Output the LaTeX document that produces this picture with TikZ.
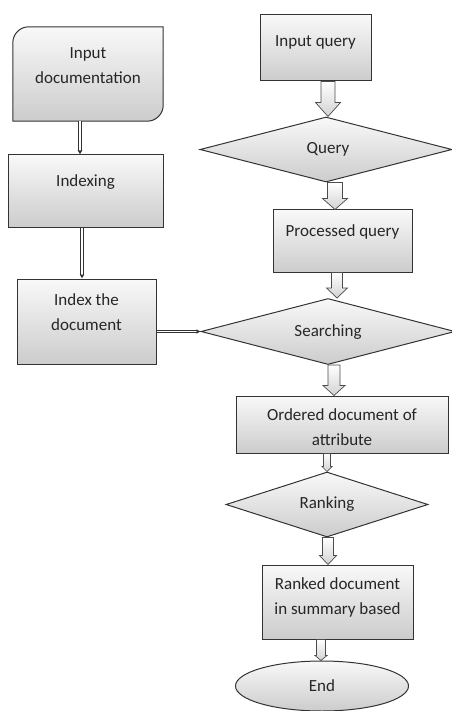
\documentclass[tikz,border=0pt]{standalone}
\usepackage{fontspec}
\setmainfont{Carlito}
\usetikzlibrary{shapes.geometric,arrows.meta,calc}
\begin{document}
\begin{tikzpicture}[x=1pt,y=1pt,
  txt/.style={font=\fontsize{17}{25}\selectfont, text=black!85, align=center, inner sep=0pt},
  every label/.style={txt},
  shapefill/.style={draw=black!80, line width=1pt, top color=gray!5, bottom color=gray!40},
  box/.style={rectangle, shapefill, inner sep=0pt},
  dia/.style={diamond, shapefill, inner sep=0pt},
  oval/.style={ellipse, shapefill, inner sep=0pt},
  dbl/.style={draw=black!80, line width=0.9pt, double=white, double distance=1.5pt, -{Latex[length=4pt,width=5pt]}},
  barrow/.style n args={3}{draw=black!70, line width=0.7pt, top color=white, bottom color=gray!35,
    to path={let \p1=(\tikztostart), \p2=(\tikztotarget) in
      (\x1-#1pt,\y1) -- (\x1+#1pt,\y1) -- (\x1+#1pt,\y2+#3pt) -- (\x1+#2pt,\y2+#3pt)
      -- (\x1,\y2) -- (\x1-#2pt,\y2+#3pt) -- (\x1-#1pt,\y2+#3pt) -- cycle}}
]
\useasboundingbox (0,0) rectangle (451,-711);

% left column
\node[rectangle, minimum width=150pt, minimum height=94pt, inner sep=0pt] (docin) at (88,-74) {};
\path[shapefill] (docin.south west) -- ([yshift=-16pt]docin.north west)
  arc[start angle=180, end angle=90, radius=16pt] -- (docin.north east)
  -- ([yshift=16pt]docin.south east) arc[start angle=0, end angle=-90, radius=16pt] -- cycle;
\node[txt] (docintxt) at ([yshift=8.5pt]docin.center) {Input\\documentation};

\node[box, minimum width=155pt, minimum height=72pt, label={[yshift=9pt]center:Indexing}] (idx) at (85.5,-191) {};
\node[box, minimum width=139pt, minimum height=85pt, label={[yshift=9.5pt]center:Index the\\document}] (idoc) at (86.5,-321.5) {};

% right column
\node[box, minimum width=111pt, minimum height=66pt, label={[yshift=6pt]center:Input query}] (iq) at (315.5,-48) {};
\node[dia, minimum width=252pt, minimum height=65pt, label={[xshift=2pt]center:Query}] (qry) at (326,-149.5) {};
\node[box, minimum width=139pt, minimum height=62pt, label={[yshift=9pt]center:Processed query}] (pq) at (342.5,-241) {};
\node[dia, minimum width=254pt, minimum height=66pt, label={[yshift=-1pt]center:Searching}] (srch) at (328,-331.5) {};
\node[box, minimum width=212pt, minimum height=57pt, label={[yshift=-3pt]center:Ordered document of\\attribute}] (ord) at (342,-424.5) {};
\node[dia, minimum width=202pt, minimum height=65pt, label={center:Ranking}] (rnk) at (327,-504.5) {};
\node[box, minimum width=151pt, minimum height=74pt, label={[yshift=4.5pt]center:Ranked document\\in summary based}] (rd) at (337.5,-602) {};
\node[oval, minimum width=173pt, minimum height=50pt, label={center:End}] (end) at (322,-686) {};

% double-line connectors
\draw[dbl] ([xshift=-8pt]docin.south) -- ([xshift=-5.5pt]idx.north);
\draw[dbl] ([xshift=-3.5pt]idx.south) -- ([xshift=-4.5pt]idoc.north);
\draw[dbl] (idoc.east |- srch.west) -- (srch.west);

% block arrows
\draw[barrow={7}{12.5}{14}] ([xshift=12.5pt]iq.south) to (qry.north);
\draw[barrow={7.5}{12.5}{11}] ([xshift=9pt]qry.south) to (pq.north);
\draw[barrow={5.5}{10.5}{10}] ([xshift=-5.5pt]pq.south) to (srch.north);
\draw[barrow={6}{11}{10}] ([xshift=6pt]srch.south) to (ord.north);
\draw[barrow={3.5}{5}{5}] ([xshift=-15pt]ord.south) to (rnk.north);
\draw[barrow={5.5}{8.5}{9}] ([xshift=1pt]rnk.south) to (rd.north);
\draw[barrow={4.5}{6}{5}] ([xshift=-16.5pt]rd.south) to (end.north);
\end{tikzpicture}
\end{document}
